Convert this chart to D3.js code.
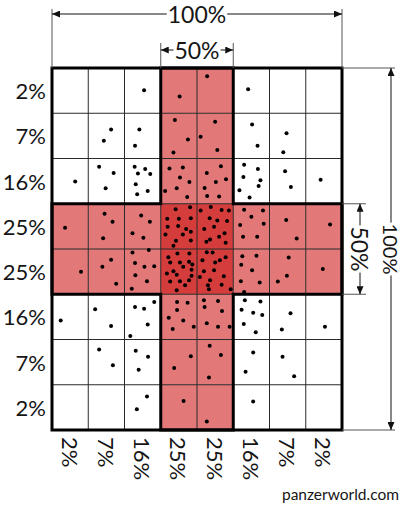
<!DOCTYPE html>
<html>
<head>
<meta charset="utf-8">
<script src="https://cdn.jsdelivr.net/npm/d3@7"></script>
<style>
  body { margin: 0; background: #fff; }
  svg text { font-family: "Lato", "Open Sans", sans-serif; fill: #151515; }
</style>
</head>
<body>
<svg id="chart" width="404" height="505"></svg>
<script>
'use strict';

// share of shots falling in each column / row band
var colLabels = ['2%', '7%', '16%', '25%', '25%', '16%', '7%', '2%'];
var rowLabels = ['2%', '7%', '16%', '25%', '25%', '16%', '7%', '2%'];
// the middle band (50%) in each direction
var bandCols = [3, 4];
var bandRows = [3, 4];
var widthLabels = ['100%', '50%'];
var heightLabels = ['100%', '50%'];

// hits, in grid units (column, row) from the top-left corner
var dots = [
  [2.54, 0.49], [3.52, 0.63], [4.28, 0.18], [5.41, 0.47],
  [1.63, 1.36], [1.43, 1.61], [2.41, 1.36], [2.29, 1.72], [3.39, 1.15], [3.75, 1.58], [3.35, 1.87],
  [4.50, 1.19], [4.10, 1.52], [4.56, 1.81], [5.52, 1.25], [5.67, 1.72], [6.47, 1.44], [6.38, 1.86],
  [0.64, 2.51], [1.30, 2.18], [1.70, 2.32], [1.48, 2.66],
  [2.28, 2.18], [2.57, 2.23], [2.37, 2.33], [2.71, 2.34], [2.31, 2.57], [2.64, 2.72], [2.35, 2.79],
  [3.24, 2.22], [3.61, 2.20], [3.53, 2.42], [3.79, 2.52], [3.12, 2.72], [3.44, 2.66], [3.73, 2.85],
  [4.66, 2.17], [4.27, 2.32], [4.80, 2.46], [4.52, 2.52], [4.21, 2.65], [4.28, 2.83], [4.61, 2.84],
  [5.30, 2.14], [5.68, 2.23], [5.28, 2.41], [5.75, 2.48], [5.70, 2.61], [5.17, 2.70], [5.45, 2.86],
  [6.43, 2.28], [6.59, 2.63], [7.41, 2.47],
  [0.36, 3.53], [1.45, 3.22], [1.67, 3.40], [1.41, 3.76],
  [2.46, 3.26], [2.70, 3.40], [2.22, 3.65], [2.52, 3.75],
  [3.41, 3.12], [3.81, 3.08], [3.18, 3.33], [3.50, 3.33], [3.83, 3.32], [3.19, 3.51], [3.48, 3.49],
  [3.70, 3.56], [3.13, 3.68], [3.83, 3.62], [3.61, 3.68], [3.42, 3.82], [3.83, 3.81], [3.35, 3.93],
  [4.10, 3.15], [4.38, 3.07], [4.68, 3.14], [4.88, 3.15], [4.35, 3.32], [4.56, 3.37], [4.83, 3.38],
  [4.47, 3.51], [4.20, 3.56], [4.76, 3.65], [4.61, 3.73], [4.36, 3.79], [4.26, 3.84], [4.79, 3.86],
  [5.30, 3.13], [5.82, 3.15], [5.50, 3.29], [5.19, 3.47], [5.84, 3.44], [5.27, 3.73], [5.66, 3.73],
  [6.46, 3.36], [6.75, 3.77], [7.67, 3.46],
  [0.80, 4.50], [1.63, 4.24], [1.39, 4.39], [1.77, 4.77],
  [2.22, 4.08], [2.67, 4.02], [2.29, 4.31], [2.55, 4.39], [2.82, 4.38], [2.30, 4.58], [2.62, 4.71], [2.20, 4.88],
  [3.21, 4.18], [3.46, 4.10], [3.79, 4.10], [3.26, 4.30], [3.53, 4.30], [3.78, 4.28], [3.87, 4.34],
  [3.62, 4.39], [3.35, 4.49], [3.85, 4.46], [3.17, 4.54], [3.44, 4.57], [3.85, 4.59], [3.26, 4.72],
  [3.53, 4.71], [3.78, 4.69], [3.67, 4.80], [3.44, 4.91],
  [4.27, 4.07], [4.43, 4.08], [4.15, 4.25], [4.50, 4.30], [4.63, 4.25], [4.79, 4.18], [4.19, 4.49],
  [4.47, 4.47], [4.74, 4.60], [4.08, 4.62], [4.36, 4.69], [4.68, 4.79], [4.30, 4.80], [4.33, 4.89], [4.93, 4.89],
  [5.25, 4.16], [5.64, 4.15], [5.22, 4.35], [5.52, 4.47], [5.21, 4.71], [5.73, 4.74], [5.30, 4.95],
  [6.53, 4.19], [6.48, 4.59], [6.23, 4.72], [7.47, 4.44],
  [0.24, 5.58], [1.19, 5.33], [1.63, 5.70],
  [2.29, 5.28], [2.54, 5.32], [2.82, 5.17], [2.64, 5.67], [2.16, 5.92],
  [3.45, 5.17], [3.74, 5.19], [3.45, 5.35], [3.22, 5.52], [3.62, 5.58], [3.91, 5.72], [3.33, 5.77],
  [4.19, 5.13], [4.58, 5.15], [4.21, 5.28], [4.69, 5.37], [4.27, 5.64], [4.58, 5.72], [4.90, 5.72],
  [5.32, 5.13], [5.75, 5.16], [5.23, 5.34], [5.55, 5.41], [5.80, 5.46], [5.29, 5.66], [5.62, 5.84],
  [6.58, 5.42], [6.34, 5.78], [7.53, 5.72],
  [1.30, 6.22], [1.68, 6.57], [2.31, 6.25], [2.65, 6.38], [2.39, 6.67], [3.83, 6.37], [3.37, 6.63],
  [4.35, 6.14], [4.66, 6.34], [4.33, 6.84], [5.55, 6.29], [5.34, 6.71], [6.36, 6.38], [6.68, 6.81],
  [2.62, 7.26], [2.34, 7.54], [3.63, 7.36], [4.27, 7.81], [5.55, 7.37]
];

var svg = d3.select('#chart'),
    n = colLabels.length,
    x = d3.scaleLinear().domain([0, n]).range([52, 342]),
    y = d3.scaleLinear().domain([0, n]).range([68, 430]),
    cw = x(1) - x(0),
    ch = y(1) - y(0);

var defs = svg.append('defs');
defs.append('marker')
    .attr('id', 'arrow')
    .attr('markerUnits', 'userSpaceOnUse')
    .attr('markerWidth', 8).attr('markerHeight', 7)
    .attr('refX', 8).attr('refY', 3.5)
    .attr('orient', 'auto-start-reverse')
  .append('path')
    .attr('d', 'M0,0L8,3.5L0,7Z')
    .attr('fill', '#111');

// cells
var cells = [];
d3.range(n).forEach(function (r) {
  d3.range(n).forEach(function (c) {
    var inCol = bandCols.indexOf(c) > -1,
        inRow = bandRows.indexOf(r) > -1;
    cells.push({ r: r, c: c, k: inCol && inRow ? 2 : (inCol || inRow ? 1 : 0) });
  });
});
var fill = ['#ffffff', '#e37878', '#d53d3d'];

svg.append('g').selectAll('rect').data(cells).enter().append('rect')
    .attr('x', function (d) { return x(d.c); })
    .attr('y', function (d) { return y(d.r); })
    .attr('width', cw).attr('height', ch)
    .attr('fill', function (d) { return fill[d.k]; });

// thin grid
var grid = svg.append('g').attr('stroke', '#2a2a2a').attr('stroke-width', 1);
d3.range(1, n).forEach(function (i) {
  grid.append('line').attr('x1', x(i)).attr('x2', x(i)).attr('y1', y(0)).attr('y2', y(n));
  grid.append('line').attr('x1', x(0)).attr('x2', x(n)).attr('y1', y(i)).attr('y2', y(i));
});

// dots
svg.append('g').selectAll('circle').data(dots).enter().append('circle')
    .attr('cx', function (d) { return x(d[0]); })
    .attr('cy', function (d) { return y(d[1]); })
    .attr('r', 2)
    .attr('fill', '#000');

// thick outline of the 50% cross and outer frame
var c0 = bandCols[0], c1 = bandCols[1] + 1, r0 = bandRows[0], r1 = bandRows[1] + 1;
var cross = [[c0, 0], [c1, 0], [c1, r0], [n, r0], [n, r1], [c1, r1], [c1, n], [c0, n], [c0, r1], [0, r1], [0, r0], [c0, r0]];
svg.append('path')
    .attr('d', d3.line().x(function (d) { return x(d[0]); }).y(function (d) { return y(d[1]); })(cross) + 'Z')
    .attr('fill', 'none').attr('stroke', '#000').attr('stroke-width', 3);
svg.append('rect')
    .attr('x', x(0)).attr('y', y(0)).attr('width', x(n) - x(0)).attr('height', y(n) - y(0))
    .attr('fill', 'none').attr('stroke', '#000').attr('stroke-width', 3);

// row and column labels
svg.append('g').selectAll('text').data(rowLabels).enter().append('text')
    .attr('x', 46)
    .attr('y', function (d, i) { return y(i + 0.5); })
    .attr('text-anchor', 'end')
    .attr('dominant-baseline', 'central')
    .attr('font-size', 22)
    .text(function (d) { return d; });

svg.append('g').selectAll('text').data(colLabels).enter().append('text')
    .attr('transform', function (d, i) { return 'translate(' + x(i + 0.5) + ',437) rotate(90)'; })
    .attr('text-anchor', 'start')
    .attr('dominant-baseline', 'central')
    .attr('font-size', 22)
    .text(function (d) { return d; });

// dimension lines
var ext = svg.append('g').attr('stroke', '#555').attr('stroke-width', 1);
function dimension(x1, y1, x2, y2, label, vertical, size) {
  var g = svg.append('g');
  g.append('line')
      .attr('x1', x1).attr('y1', y1).attr('x2', x2).attr('y2', y2)
      .attr('stroke', '#111').attr('stroke-width', 1)
      .attr('marker-start', 'url(#arrow)').attr('marker-end', 'url(#arrow)');
  var cx = (x1 + x2) / 2, cy = (y1 + y2) / 2;
  var bg = g.append('rect').attr('fill', '#fff');
  var t = g.append('text')
      .attr('transform', 'translate(' + cx + ',' + cy + ')' + (vertical ? ' rotate(90)' : ''))
      .attr('text-anchor', 'middle')
      .attr('dominant-baseline', 'central')
      .attr('font-size', size)
      .text(label);
  var b = t.node().getBBox(), pad = 1;
  bg.attr('transform', t.attr('transform'))
      .attr('x', b.x - pad).attr('y', b.y + 3)
      .attr('width', b.width + 2 * pad).attr('height', b.height - 6);
}

var rx = 391;
ext.append('line').attr('x1', x(0)).attr('x2', x(0)).attr('y1', 9).attr('y2', y(0));
ext.append('line').attr('x1', x(n)).attr('x2', x(n)).attr('y1', 9).attr('y2', y(0));
ext.append('line').attr('x1', x(c0)).attr('x2', x(c0)).attr('y1', 43).attr('y2', y(0));
ext.append('line').attr('x1', x(c1)).attr('x2', x(c1)).attr('y1', 43).attr('y2', y(0));
ext.append('line').attr('x1', x(n)).attr('x2', rx + 4).attr('y1', y(0)).attr('y2', y(0));
ext.append('line').attr('x1', x(n)).attr('x2', rx + 4).attr('y1', y(n)).attr('y2', y(n));
ext.append('line').attr('x1', x(n)).attr('x2', 366).attr('y1', y(r0)).attr('y2', y(r0));
ext.append('line').attr('x1', x(n)).attr('x2', 366).attr('y1', y(r1)).attr('y2', y(r1));

dimension(x(0), 14, x(n), 14, widthLabels[0], false, 23);
dimension(x(c0), 50, x(c1), 50, widthLabels[1], false, 23);
dimension(rx, y(0), rx, y(n), heightLabels[0], true, 20);
dimension(360, y(r0), 360, y(r1), heightLabels[1], true, 23);

svg.append('text')
    .attr('x', 399).attr('y', 500)
    .attr('text-anchor', 'end')
    .attr('font-size', 15.5)
    .attr('fill', '#222')
    .text('panzerworld.com');
</script>
</body>
</html>
